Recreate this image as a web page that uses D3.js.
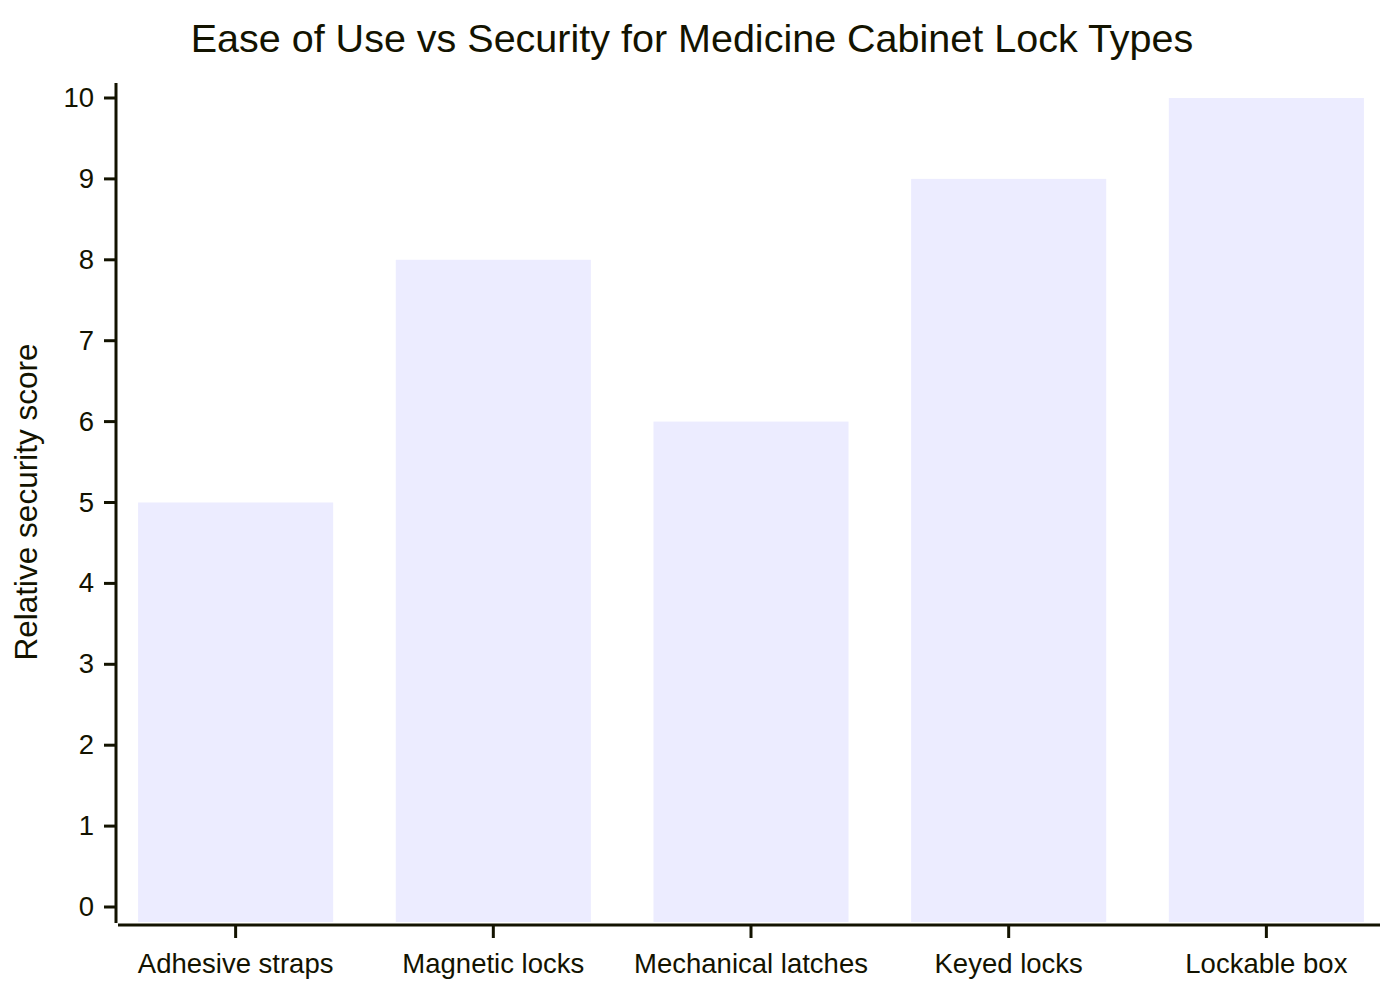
<!DOCTYPE html>
<html>
<head>
<meta charset="utf-8">
<script src="https://cdn.jsdelivr.net/npm/d3@7"></script>
<style>
  body { margin: 0; background: #fff; }
  text { font-family: "Liberation Sans", Arial, sans-serif; fill: #131300; }
</style>
</head>
<body>
<script>
// chart data
const categories = ["Adhesive straps", "Magnetic locks", "Mechanical latches", "Keyed locks", "Lockable box"];
const scores = [5, 8, 6, 9, 10];
const yTicks = [0, 1, 2, 3, 4, 5, 6, 7, 8, 9, 10];

const width = 1400, height = 1000;
const plotBottom = 922;
const ink = "#131300";

const svg = d3.select("body").append("svg")
    .attr("width", width)
    .attr("height", height)
    .style("background-color", "white");

const x = d3.scaleBand()
    .domain(categories)
    .range([118, 1384])
    .paddingInner(0.243)
    .paddingOuter(0.078);

const y = d3.scaleLinear()
    .domain([0, 10])
    .range([907, 98]);

// bars
svg.selectAll("rect.bar")
    .data(categories)
    .enter().append("rect")
    .attr("class", "bar")
    .attr("x", d => x(d))
    .attr("width", x.bandwidth())
    .attr("y", (d, i) => y(scores[i]))
    .attr("height", (d, i) => plotBottom - y(scores[i]))
    .attr("fill", "#ECECFF");

// y axis
svg.append("line")
    .attr("x1", 116).attr("x2", 116)
    .attr("y1", 83).attr("y2", plotBottom + 1)
    .attr("stroke", ink).attr("stroke-width", 3);

svg.selectAll("line.ytick")
    .data(yTicks)
    .enter().append("line")
    .attr("class", "ytick")
    .attr("x1", 104).attr("x2", 116)
    .attr("y1", d => y(d)).attr("y2", d => y(d))
    .attr("stroke", ink).attr("stroke-width", 3);

svg.selectAll("text.ylabel")
    .data(yTicks)
    .enter().append("text")
    .attr("class", "ylabel")
    .attr("x", 94)
    .attr("y", d => y(d))
    .attr("dy", "0.33em")
    .attr("text-anchor", "end")
    .style("font-size", "27.5px")
    .text(d => d);

// x axis
svg.append("line")
    .attr("x1", 118).attr("x2", 1380)
    .attr("y1", 925).attr("y2", 925)
    .attr("stroke", ink).attr("stroke-width", 3);

svg.selectAll("line.xtick")
    .data(categories)
    .enter().append("line")
    .attr("class", "xtick")
    .attr("x1", d => x(d) + x.bandwidth() / 2)
    .attr("x2", d => x(d) + x.bandwidth() / 2)
    .attr("y1", 925).attr("y2", 938)
    .attr("stroke", ink).attr("stroke-width", 3);

svg.selectAll("text.xlabel")
    .data(categories)
    .enter().append("text")
    .attr("class", "xlabel")
    .attr("x", d => x(d) + x.bandwidth() / 2)
    .attr("y", 973)
    .attr("text-anchor", "middle")
    .style("font-size", "27.5px")
    .text(d => d);

// titles
svg.append("text")
    .attr("x", 692)
    .attr("y", 52)
    .attr("text-anchor", "middle")
    .style("font-size", "39.5px")
    .text("Ease of Use vs Security for Medicine Cabinet Lock Types");

svg.append("text")
    .attr("transform", "translate(37,502) rotate(-90)")
    .attr("text-anchor", "middle")
    .style("font-size", "31.5px")
    .text("Relative security score");
</script>
</body>
</html>
